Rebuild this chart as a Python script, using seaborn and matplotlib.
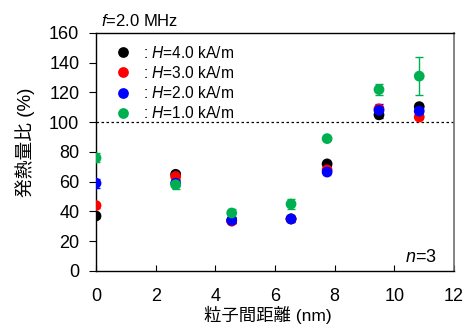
import numpy as np
import pandas as pd
import matplotlib
matplotlib.use("Agg")
import matplotlib.pyplot as plt
import seaborn as sns

# Data
distance = [0, 2.67, 4.55, 6.54, 7.75, 9.49, 10.84]
labels = [": $\\mathit{H}$=4.0 kA/m", ": $\\mathit{H}$=3.0 kA/m",
          ": $\\mathit{H}$=2.0 kA/m", ": $\\mathit{H}$=1.0 kA/m"]
h40 = [37, 65, 34, 35, 72, 105, 110.5]
h30 = [44, 63.5, 33.5, 35, 68, 109, 103.5]
h20 = [59, 59, 34, 35, 66.5, 108, 107.5]
h10 = [76, 58, 39, 45, 89, 122, 131]
err40 = [1.5, 1.5, 1.5, 1.5, 1.5, 2, 1.5]
err30 = [1.5, 1.5, 1, 1, 1, 2, 1.5]
err20 = [3, 2, 2, 2, 1.5, 4, 2]
err10 = [3, 3, 3, 3.5, 1, 3.5, 13]
colors = ["#000000", "#FF0000", "#0000FF", "#00B050"]

sns.set_style("ticks")
plt.rcParams["font.family"] = ["Liberation Sans", "Noto Sans CJK JP"]
plt.rcParams["mathtext.fontset"] = "custom"
plt.rcParams["mathtext.rm"] = "Liberation Sans"
plt.rcParams["mathtext.it"] = "Liberation Sans:italic"
plt.rcParams["text.color"] = "black"
plt.rcParams["axes.labelcolor"] = "black"
plt.rcParams["xtick.color"] = "black"
plt.rcParams["ytick.color"] = "black"

series = [h40, h30, h20, h10]
errs = [err40, err30, err20, err10]
rows = []
for lab, vals, ee in zip(labels, series, errs):
    for x, v, e in zip(distance, vals, ee):
        rows.append({"distance": x, "ratio": v, "err": e, "H": lab})
df = pd.DataFrame(rows)

fig = plt.figure(figsize=(4.65, 3.29), dpi=100)
ax = fig.add_axes([0.2065, 0.1763, 0.7695, 0.7234])

# error bars first, then points (later series on top)
for i, (lab, col) in enumerate(zip(labels, colors)):
    d = df[df["H"] == lab]
    ax.errorbar(d["distance"], d["ratio"], yerr=d["err"], fmt="none",
                ecolor=col, elinewidth=1, capsize=3, capthick=1, zorder=2 + i)
sns.scatterplot(data=df, x="distance", y="ratio", hue="H", palette=colors,
                s=60, edgecolor="none", ax=ax, zorder=10)

ax.axhline(100, color="black", lw=0.9, ls=(0, (2, 2)), zorder=1)

ax.set_xlim(0, 12)
ax.set_ylim(0, 160)
ax.set_xticks(np.arange(0, 13, 2))
ax.set_yticks(np.arange(0, 161, 20))
ax.tick_params(axis="x", direction="in", labelsize=13, length=4, pad=12)
ax.tick_params(axis="y", direction="out", labelsize=13, length=5, pad=7)
ax.set_xlabel("粒子間距離 (nm)", fontsize=12.5, labelpad=1, x=0.48)
ax.set_ylabel("発熱量比 (%)", fontsize=13.5, labelpad=10, y=0.54)
for s in ["left", "bottom", "top"]:
    ax.spines[s].set_color("black")
    ax.spines[s].set_linewidth(1)
ax.spines["right"].set_color("#707070")
ax.spines["right"].set_linewidth(1.2)

leg = ax.legend(loc="upper left", frameon=False, fontsize=11.2, handletextpad=0.25,
                labelspacing=0.27, borderaxespad=0.35, markerscale=1.0)

ax.text(0.015, 1.015, "$\\mathit{f}$=2.0 MHz", transform=ax.transAxes,
        fontsize=12, ha="left", va="bottom")
ax.text(0.953, 0.02, "$\\mathit{n}$=3", transform=ax.transAxes,
        fontsize=13, ha="right", va="bottom")

fig.savefig("out.png", dpi=100)
